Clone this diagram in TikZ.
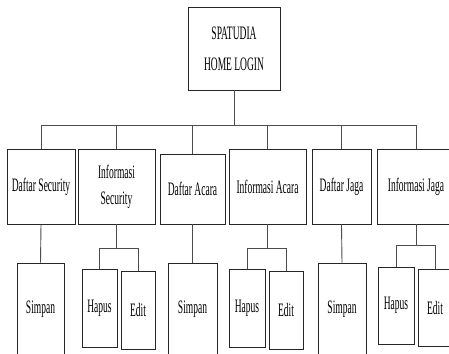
\documentclass[tikz,border=0pt]{standalone}
\usepackage{fontspec}
\setmainfont{Liberation Serif}[FakeStretch=0.5]
\begin{document}
\begin{tikzpicture}[x=1pt,y=-1pt,
  box/.style={draw=black!85,line width=0.9pt,fill=white,inner sep=1pt,align=center,
    font=\fontsize{19}{26}\selectfont,text=black},
  conn/.style={draw=black!70,line width=0.9pt}]
\useasboundingbox (0,0) rectangle (449,353);
\begin{scope}
\clip (0,0) rectangle (449,353);
% top
\node[box,minimum width=92pt,minimum height=83pt,font=\fontsize{19}{31}\selectfont] (top) at (234,48.5) {SPATUDIA\\HOME LOGIN};
% second row
\node[box,minimum width=68pt,minimum height=75pt] (b1) at (41,186.5) {Daftar Security};
\node[box,minimum width=77pt,minimum height=75pt] (b2) at (116.5,186.5) {Informasi\\Security};
\node[box,minimum width=65pt,minimum height=70pt] (b3) at (192.5,189) {Daftar Acara};
\node[box,minimum width=77pt,minimum height=75pt] (b4) at (267.5,186.5) {Informasi Acara};
\node[box,minimum width=59pt,minimum height=75pt] (b5) at (341.5,186.5) {Daftar Jaga};
\node[box,minimum width=78pt,minimum height=75pt] (b6) at (416,186.5) {Informasi Jaga};
% third row
\node[box,minimum width=47pt,minimum height=92pt] (s1) at (40.5,309) {Simpan};
\node[box,minimum width=35pt,minimum height=78pt] (h1) at (99.5,308) {Hapus};
\node[box,minimum width=34pt,minimum height=78pt] (e1) at (138,310) {Edit};
\node[box,minimum width=49pt,minimum height=92pt] (s2) at (192.5,309) {Simpan};
\node[box,minimum width=36pt,minimum height=78pt] (h2) at (247,308) {Hapus};
\node[box,minimum width=34pt,minimum height=78pt] (e2) at (286,310) {Edit};
\node[box,minimum width=48pt,minimum height=92pt] (s3) at (342,309) {Simpan};
\node[box,minimum width=36pt,minimum height=77pt] (h3) at (396,305.5) {Hapus};
\node[box,minimum width=34pt,minimum height=77pt] (e3) at (435,307.5) {Edit};
% connectors
\coordinate (bus) at (234,125);
\draw[conn] (top.south) -- (bus);
\foreach \n in {b1,b2,b3,b4,b5,b6} \draw[conn] (bus) -| (\n.north);
\draw[conn] (b1.south) -- (s1.north);
\draw[conn] (b3.south) -- (s2.north);
\draw[conn] (b5.south) -- (s3.north);
\coordinate (j1) at (116.5,248);
\coordinate (j2) at (267.5,248);
\coordinate (j3) at (416,245);
\draw[conn] (b2.south) -- (j1);
\draw[conn] (j1) -| (h1.north);
\draw[conn] (j1) -| (e1.north);
\draw[conn] (b4.south) -- (j2);
\draw[conn] (j2) -| (h2.north);
\draw[conn] (j2) -| (e2.north);
\draw[conn] (b6.south) -- (j3);
\draw[conn] (j3) -| (h3.north);
\draw[conn] (j3) -| (e3.north);
\end{scope}
\end{tikzpicture}
\end{document}
